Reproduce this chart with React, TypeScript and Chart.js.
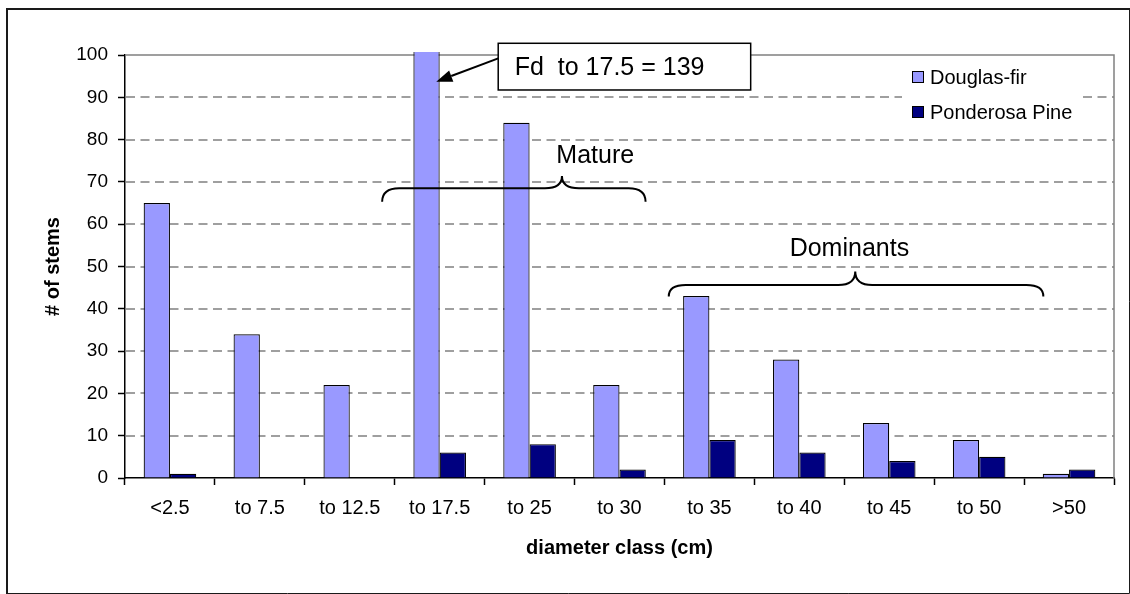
import { useEffect, useRef } from "react";
import { Chart, registerables } from "chart.js";

Chart.register(...registerables);

// Stem counts per diameter class
const diameterClasses = ["<2.5", "to 7.5", "to 12.5", "to 17.5", "to 25", "to 30", "to 35", "to 40", "to 45", "to 50", ">50"];
const douglasFir = [65, 34, 22, 139, 84, 22, 43, 28, 13, 9, 1];
const ponderosaPine = [1, 0, 0, 6, 8, 2, 9, 6, 4, 5, 2];
const seriesNames = ["Douglas-fir", "Ponderosa Pine"];
const seriesColors = ["#9999FF", "#000080"];

const calloutText = "Fd  to 17.5 = 139";
const matureLabel = "Mature";
const dominantsLabel = "Dominants";

const FONT = '"Liberation Sans", Arial, Helvetica, sans-serif';

const W = 1130;
const H = 594;

// page frame around the whole figure
const framePlugin = {
  id: "frame",
  beforeDraw(chart: any) {
    const ctx = chart.ctx;
    ctx.save();
    ctx.fillStyle = "#ffffff";
    ctx.fillRect(0, 0, chart.width, chart.height);
    ctx.strokeStyle = "#1a1a1a";
    ctx.lineWidth = 2;
    ctx.beginPath();
    ctx.moveTo(7, chart.height);
    ctx.lineTo(7, 9);
    ctx.lineTo(chart.width, 9);
    ctx.stroke();
    ctx.lineWidth = 1;
    ctx.beginPath();
    ctx.moveTo(chart.width - 0.5, 9);
    ctx.lineTo(chart.width - 0.5, chart.height - 0.5);
    ctx.lineTo(7, chart.height - 0.5);
    ctx.stroke();
    ctx.restore();
  },
};

// dashed horizontal gridlines plus the grey plot-area border
const gridPlugin = {
  id: "dashedGrid",
  beforeDatasetsDraw(chart: any) {
    const { ctx, chartArea: a } = chart;
    const y = chart.scales.y;
    ctx.save();
    ctx.strokeStyle = "#808080";
    ctx.lineWidth = 1.5;
    ctx.setLineDash([9, 5.5]);
    y.ticks.forEach((t: any) => {
      if (t.value <= y.min || t.value >= y.max) return;
      const py = Math.round(y.getPixelForValue(t.value));
      ctx.beginPath();
      ctx.moveTo(a.left + 1, py);
      ctx.lineTo(a.right, py);
      ctx.stroke();
    });
    ctx.setLineDash([]);
    ctx.beginPath();
    ctx.moveTo(a.left + 1, a.top);
    ctx.lineTo(a.right, a.top);
    ctx.lineTo(a.right, a.bottom);
    ctx.stroke();
    ctx.restore();
  },
};

function brace(ctx: any, x1: number, x2: number, xm: number, yTip: number, yLine: number, yPeak: number) {
  const rx = 17;
  ctx.beginPath();
  ctx.moveTo(x1, yTip);
  ctx.quadraticCurveTo(x1, yLine, x1 + rx, yLine);
  ctx.lineTo(xm - rx, yLine);
  ctx.quadraticCurveTo(xm, yLine, xm, yPeak);
  ctx.quadraticCurveTo(xm, yLine, xm + rx, yLine);
  ctx.lineTo(x2 - rx, yLine);
  ctx.quadraticCurveTo(x2, yLine, x2, yTip);
  ctx.stroke();
}

// legend, braces and the callout drawn over the bars
const annotationPlugin = {
  id: "annotations",
  afterDatasetsDraw(chart: any) {
    const { ctx, chartArea: a } = chart;
    const xs = chart.scales.x;
    const ys = chart.scales.y;
    const px = (i: number) => xs.getPixelForValue(i);
    const py = (v: number) => ys.getPixelForValue(v);
    ctx.save();

    // legend
    const lx = a.right - 212;
    const ly = a.top + 5;
    ctx.fillStyle = "#ffffff";
    ctx.fillRect(lx, ly, 180, 70);
    ctx.font = `20px ${FONT}`;
    ctx.textBaseline = "middle";
    ctx.textAlign = "left";
    chart.data.datasets.forEach((ds: any, k: number) => {
      const cy = ly + 17 + k * 35;
      ctx.fillStyle = ds.backgroundColor;
      ctx.fillRect(lx + 10.5, cy - 5.5, 11, 11);
      ctx.strokeStyle = "#000";
      ctx.lineWidth = 1;
      ctx.strokeRect(lx + 10.5, cy - 5.5, 11, 11);
      ctx.fillStyle = "#000";
      ctx.fillText(ds.label, lx + 28, cy + 1);
    });

    // braces
    ctx.strokeStyle = "#000";
    ctx.lineWidth = 2;
    brace(ctx, px(2.36), px(5.29), px(4.36), py(65.3), py(68.5), py(71.4));
    brace(ctx, px(5.548), px(9.714), px(7.622), py(42.9), py(45.6), py(48.8));

    ctx.fillStyle = "#000";
    ctx.font = `25px ${FONT}`;
    ctx.textAlign = "center";
    ctx.fillText(matureLabel, px(4.73), py(76.4) + 1);
    ctx.fillText(dominantsLabel, px(7.557), py(54.3) + 1);

    // callout box with arrow to the clipped bar
    const bx1 = px(3.651);
    const bx2 = px(6.459);
    const by1 = py(102.77);
    const by2 = py(91.73);
    ctx.fillStyle = "#ffffff";
    ctx.fillRect(bx1, by1, bx2 - bx1, by2 - by1);
    ctx.lineWidth = 1.5;
    ctx.strokeRect(bx1, by1, bx2 - bx1, by2 - by1);
    ctx.fillStyle = "#000";
    ctx.textAlign = "left";
    ctx.fillText(calloutText, bx1 + 16.5, (by1 + by2) / 2 + 1);

    const sx = bx1;
    const sy = py(99.2);
    const tx = px(2.962);
    const ty = py(93.7);
    const ang = Math.atan2(ty - sy, tx - sx);
    const headLen = 16;
    const headW = 6;
    const bxp = tx - headLen * Math.cos(ang);
    const byp = ty - headLen * Math.sin(ang);
    ctx.lineWidth = 2;
    ctx.beginPath();
    ctx.moveTo(sx, sy);
    ctx.lineTo(bxp, byp);
    ctx.stroke();
    ctx.beginPath();
    ctx.moveTo(tx, ty);
    ctx.lineTo(bxp - headW * Math.sin(ang), byp + headW * Math.cos(ang));
    ctx.lineTo(bxp + headW * Math.sin(ang), byp - headW * Math.cos(ang));
    ctx.closePath();
    ctx.fill();

    ctx.restore();
  },
};

export default function App() {
  const canvasRef = useRef<HTMLCanvasElement | null>(null);

  useEffect(() => {
    const canvas = canvasRef.current;
    if (!canvas) return;
    Chart.defaults.font.family = FONT;
    Chart.defaults.color = "#000";

    const chart = new Chart(canvas, {
      type: "bar",
      data: {
        labels: diameterClasses,
        datasets: [
          {
            label: seriesNames[0],
            data: douglasFir,
            backgroundColor: seriesColors[0],
            borderColor: "#000",
            borderWidth: 1.2,
            clip: { left: 0, top: 3, right: 0, bottom: 0 },
          },
          {
            label: seriesNames[1],
            data: ponderosaPine,
            backgroundColor: seriesColors[1],
            borderColor: "#000",
            borderWidth: 1.2,
            clip: { left: 0, top: 3, right: 0, bottom: 0 },
          },
        ],
      },
      options: {
        responsive: false,
        animation: false,
        devicePixelRatio: 1,
        datasets: {
          bar: { categoryPercentage: 0.585, barPercentage: 1 },
        },
        layout: { padding: { top: 55, right: 16, left: 0, bottom: 0 } },
        plugins: {
          legend: { display: false },
          tooltip: { enabled: false },
        },
        scales: {
          x: {
            grid: {
              offset: true,
              drawOnChartArea: false,
              drawTicks: true,
              tickLength: 7,
              tickColor: "#000",
              tickWidth: 1.5,
            },
            border: { display: true, color: "#000", width: 1.5 },
            ticks: { font: { size: 20 }, color: "#000", padding: 11, maxRotation: 0, autoSkip: false },
            title: {
              display: true,
              text: "diameter class (cm)",
              font: { size: 20, weight: "bold" },
              color: "#000",
              padding: { top: 0, bottom: 34 },
            },
            afterFit(scale: any) {
              scale.height = 116;
            },
          },
          y: {
            min: 0,
            max: 100,
            grid: {
              drawOnChartArea: false,
              drawTicks: true,
              tickLength: 7,
              tickColor: "#000",
              tickWidth: 1.5,
            },
            border: { display: true, color: "#000", width: 1.5 },
            ticks: { stepSize: 10, font: { size: 19 }, color: "#000", padding: 10 },
            title: {
              display: true,
              text: "# of stems",
              font: { size: 20, weight: "bold" },
              color: "#000",
              padding: { top: 41, bottom: 0 },
            },
            afterFit(scale: any) {
              scale.width = 125;
            },
          },
        },
      },
      plugins: [framePlugin, gridPlugin, annotationPlugin],
    } as any);

    return () => chart.destroy();
  }, []);

  return (
    <div style={{ position: "absolute", left: 0, top: 0, width: W, height: H }}>
      <canvas ref={canvasRef} width={W} height={H} style={{ width: W, height: H, display: "block" }} />
    </div>
  );
}
